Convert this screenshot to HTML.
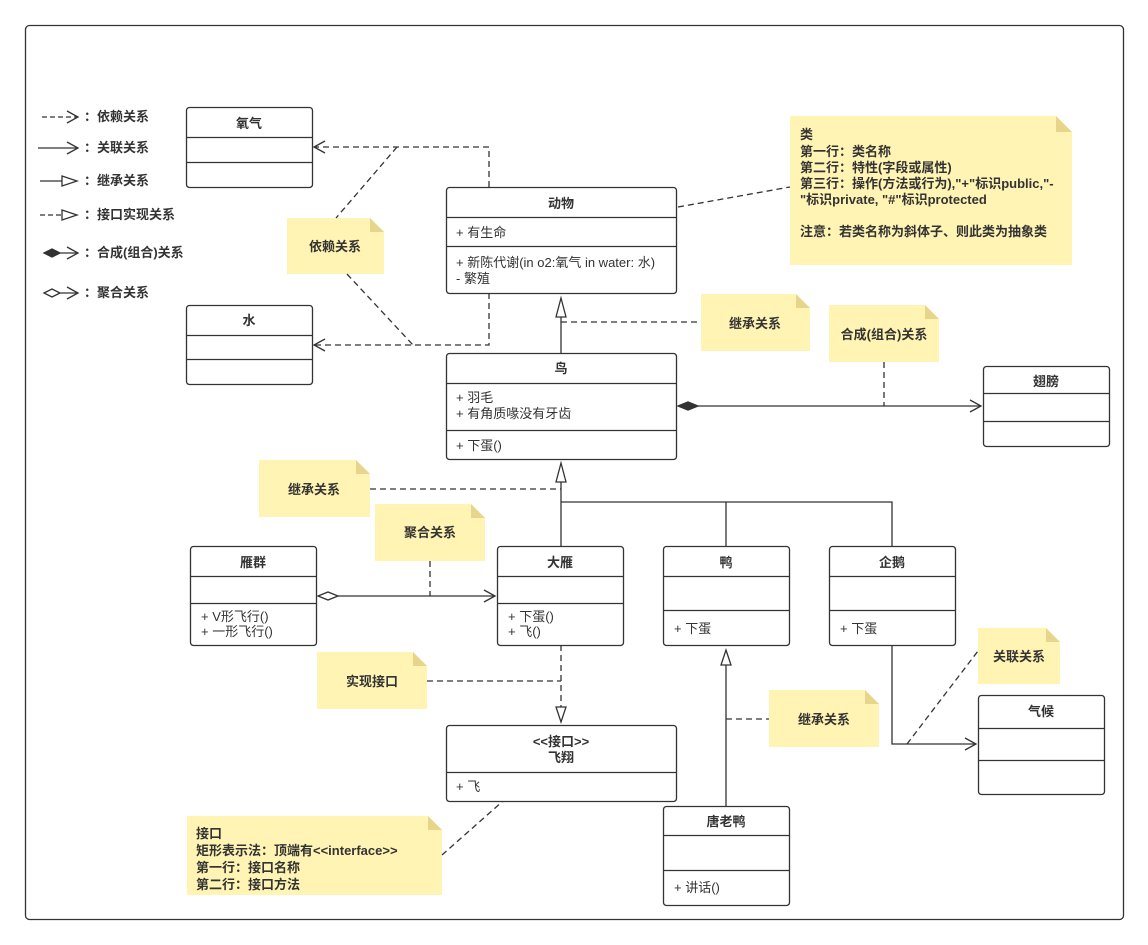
<!DOCTYPE html>
<html><head><meta charset="utf-8"><style>
html,body{margin:0;padding:0;background:#fff;}
svg{display:block;font-family:"Liberation Sans","Noto Sans CJK SC",sans-serif;}
text{font-size:13px;fill:#333;}
.b{font-weight:bold;}
</style></head><body>
<svg width="1148" height="945" viewBox="0 0 1148 945" xmlns="http://www.w3.org/2000/svg">
<defs>
<marker id="oa" markerWidth="14" markerHeight="14" refX="12" refY="7" orient="auto" markerUnits="userSpaceOnUse"><path d="M1,1 L12,7 L1,13" fill="none" stroke="#333" stroke-width="1.3"/></marker>
</defs>
<rect x="25.5" y="25.5" width="1098" height="894" rx="4" fill="none" stroke="#333" stroke-width="1.3"/>

<!-- legend -->
<g stroke="#333" stroke-width="1.3" fill="none">
<line x1="42" y1="117" x2="78" y2="117" stroke-dasharray="5,3" marker-end="url(#oa)"/>
<line x1="38" y1="148" x2="78" y2="148" marker-end="url(#oa)"/>
<line x1="40" y1="181" x2="62" y2="181"/><path d="M62,176 L77,181 L62,186 Z" fill="#fff"/>
<line x1="40" y1="215" x2="62" y2="215" stroke-dasharray="5,3"/><path d="M62,210 L77,215 L62,220 Z" fill="#fff"/>
<path d="M44,253 L52,249 L60,253 L52,257 Z" fill="#333"/><line x1="60" y1="253" x2="78" y2="253" marker-end="url(#oa)"/>
<path d="M44,293 L52,289 L60,293 L52,297 Z" fill="#fff"/><line x1="60" y1="293" x2="78" y2="293" marker-end="url(#oa)"/>
</g>
<g class="b">
<text x="84" y="121">：依赖关系</text>
<text x="84" y="152">：关联关系</text>
<text x="84" y="185">：继承关系</text>
<text x="84" y="219">：接口实现关系</text>
<text x="84" y="257">：合成(组合)关系</text>
<text x="84" y="297">：聚合关系</text>
</g>

<!-- notes -->
<g fill="#fff4b3">
<path d="M790,116 H1056 L1072,132 V265 H790 Z"/>
<path d="M287,218 H370 L384,232 V274 H287 Z"/>
<path d="M701,294 H796 L810,308 V351 H701 Z"/>
<path d="M829,305 H925 L939,319 V362 H829 Z"/>
<path d="M259,460 H356 L370,474 V517 H259 Z"/>
<path d="M375,504 H471 L485,518 V561 H375 Z"/>
<path d="M317,652 H413 L427,666 V709 H317 Z"/>
<path d="M769,690 H865 L879,704 V747 H769 Z"/>
<path d="M978,628 H1046 L1060,642 V684 H978 Z"/>
<path d="M187,816 H428 L442,830 V895 H187 Z"/>
</g>
<g fill="#e6d58a">
<path d="M1056,116 L1072,132 H1056 Z"/><path d="M370,218 L384,232 H370 Z"/><path d="M796,294 L810,308 H796 Z"/>
<path d="M925,305 L939,319 H925 Z"/><path d="M356,460 L370,474 H356 Z"/><path d="M471,504 L485,518 H471 Z"/>
<path d="M413,652 L427,666 H413 Z"/><path d="M865,690 L879,704 H865 Z"/><path d="M1046,628 L1060,642 H1046 Z"/>
<path d="M428,816 L442,830 H428 Z"/>
</g>
<g class="b">
<text x="800" y="139">类</text>
<text x="800" y="156">第一行：类名称</text>
<text x="800" y="172">第二行：特性(字段或属性)</text>
<text x="800" y="188">第三行：操作(方法或行为),"+"标识public,"-</text>
<text x="800" y="204">"标识private, "#"标识protected</text>
<text x="800" y="236">注意：若类名称为斜体子、则此类为抽象类</text>
<text x="335" y="251" text-anchor="middle">依赖关系</text>
<text x="755" y="328" text-anchor="middle">继承关系</text>
<text x="884" y="339" text-anchor="middle">合成(组合)关系</text>
<text x="314" y="494" text-anchor="middle">继承关系</text>
<text x="430" y="537" text-anchor="middle">聚合关系</text>
<text x="372" y="686" text-anchor="middle">实现接口</text>
<text x="824" y="724" text-anchor="middle">继承关系</text>
<text x="1019" y="661" text-anchor="middle">关联关系</text>
<text x="196" y="838">接口</text>
<text x="196" y="855">矩形表示法：顶端有&lt;&lt;interface&gt;&gt;</text>
<text x="196" y="872">第一行：接口名称</text>
<text x="196" y="889">第二行：接口方法</text>
</g>

<!-- connectors -->
<g stroke="#333" stroke-width="1.3" fill="none">
<polyline points="489,187 489,147 314,147" stroke-dasharray="6,4" marker-end="url(#oa)"/>
<polyline points="489,293 489,345 314,345" stroke-dasharray="6,4" marker-end="url(#oa)"/>
<line x1="397" y1="147" x2="336" y2="218" stroke-dasharray="6,4"/>
<line x1="347" y1="274" x2="413" y2="345" stroke-dasharray="6,4"/>
<line x1="678" y1="207" x2="790" y2="187" stroke-dasharray="6,4"/>
<line x1="561" y1="353" x2="561" y2="317"/><path d="M561,298 L566,317 L556,317 Z" fill="#fff"/>
<line x1="561" y1="322" x2="701" y2="322" stroke-dasharray="6,4"/>
<path d="M678,406 L688,402 L698,406 L688,410 Z" fill="#333"/>
<line x1="698" y1="406" x2="981" y2="406" marker-end="url(#oa)"/>
<line x1="884" y1="362" x2="884" y2="406" stroke-dasharray="6,4"/>
<path d="M561,463 L566,482 L556,482 Z" fill="#fff"/>
<line x1="561" y1="482" x2="561" y2="546"/>
<polyline points="561,502 892,502 892,546"/>
<line x1="726" y1="502" x2="726" y2="546"/>
<line x1="370" y1="489" x2="561" y2="489" stroke-dasharray="6,4"/>
<path d="M318,596 L328,592 L338,596 L328,600 Z" fill="#fff"/>
<line x1="338" y1="596" x2="495" y2="596" marker-end="url(#oa)"/>
<line x1="430" y1="561" x2="430" y2="596" stroke-dasharray="6,4"/>
<line x1="561" y1="645" x2="561" y2="707" stroke-dasharray="6,4"/><path d="M561,722 L566,707 L556,707 Z" fill="#fff"/>
<line x1="427" y1="681" x2="561" y2="681" stroke-dasharray="6,4"/>
<line x1="726" y1="806" x2="726" y2="665"/><path d="M726,650 L731,665 L721,665 Z" fill="#fff"/>
<line x1="726" y1="719" x2="769" y2="719" stroke-dasharray="6,4"/>
<polyline points="892,645 892,744 976,744" marker-end="url(#oa)"/>
<line x1="907" y1="744" x2="978" y2="651" stroke-dasharray="6,4"/>
<line x1="442" y1="855" x2="503" y2="801" stroke-dasharray="6,4"/>
</g>

<!-- classes -->
<g stroke="#333" stroke-width="1.3" fill="#fff">
<rect x="186.5" y="107.5" width="126" height="80" rx="3"/><path d="M186.5,137.5H312.5M186.5,162.5H312.5"/>
<rect x="186.5" y="305.5" width="126" height="79" rx="3"/><path d="M186.5,335.5H312.5M186.5,359.5H312.5"/>
<rect x="446.5" y="187.5" width="230" height="106" rx="3"/><path d="M446.5,217.5H676.5M446.5,246.5H676.5"/>
<rect x="446.5" y="353.5" width="230" height="106" rx="3"/><path d="M446.5,383.5H676.5M446.5,430.5H676.5"/>
<rect x="983.5" y="366.5" width="126" height="80" rx="3"/><path d="M983.5,393.5H1109.5M983.5,421.5H1109.5"/>
<rect x="190.5" y="546.5" width="126" height="99" rx="3"/><path d="M190.5,576.5H316.5M190.5,603.5H316.5"/>
<rect x="497.5" y="546.5" width="126" height="99" rx="3"/><path d="M497.5,576.5H623.5M497.5,603.5H623.5"/>
<rect x="663.5" y="546.5" width="126" height="99" rx="3"/><path d="M663.5,576.5H789.5M663.5,610.5H789.5"/>
<rect x="829.5" y="546.5" width="126" height="99" rx="3"/><path d="M829.5,576.5H955.5M829.5,610.5H955.5"/>
<rect x="978.5" y="695.5" width="126" height="99" rx="3"/><path d="M978.5,728.5H1104.5M978.5,760.5H1104.5"/>
<rect x="446.5" y="725.5" width="230" height="76" rx="3"/><path d="M446.5,772.5H676.5"/>
<rect x="663.5" y="806.5" width="126" height="99" rx="3"/><path d="M663.5,835.5H789.5M663.5,870.5H789.5"/>
</g>
<g text-anchor="middle" font-weight="bold">
<text x="249" y="128">氧气</text>
<text x="249" y="325">水</text>
<text x="561" y="208">动物</text>
<text x="561" y="373">鸟</text>
<text x="1046" y="386">翅膀</text>
<text x="253" y="567">雁群</text>
<text x="560" y="567">大雁</text>
<text x="726" y="567">鸭</text>
<text x="892" y="567">企鹅</text>
<text x="1041" y="716">气候</text>
<text x="561" y="746">&lt;&lt;接口&gt;&gt;</text>
<text x="561" y="762">飞翔</text>
<text x="726" y="826">唐老鸭</text>
</g>
<g>
<text x="456" y="237">+ 有生命</text>
<text x="456" y="267">+ 新陈代谢(in o2:氧气 in water: 水)</text>
<text x="456" y="283">- 繁殖</text>
<text x="456" y="402">+ 羽毛</text>
<text x="456" y="418">+ 有角质喙没有牙齿</text>
<text x="456" y="450">+ 下蛋()</text>
<text x="201" y="621">+ V形飞行()</text>
<text x="201" y="636">+ 一形飞行()</text>
<text x="508" y="621">+ 下蛋()</text>
<text x="508" y="636">+ 飞()</text>
<text x="674" y="633">+ 下蛋</text>
<text x="840" y="633">+ 下蛋</text>
<text x="456" y="791">+ 飞</text>
<text x="674" y="892">+ 讲话()</text>
</g>
</svg>
</body></html>
